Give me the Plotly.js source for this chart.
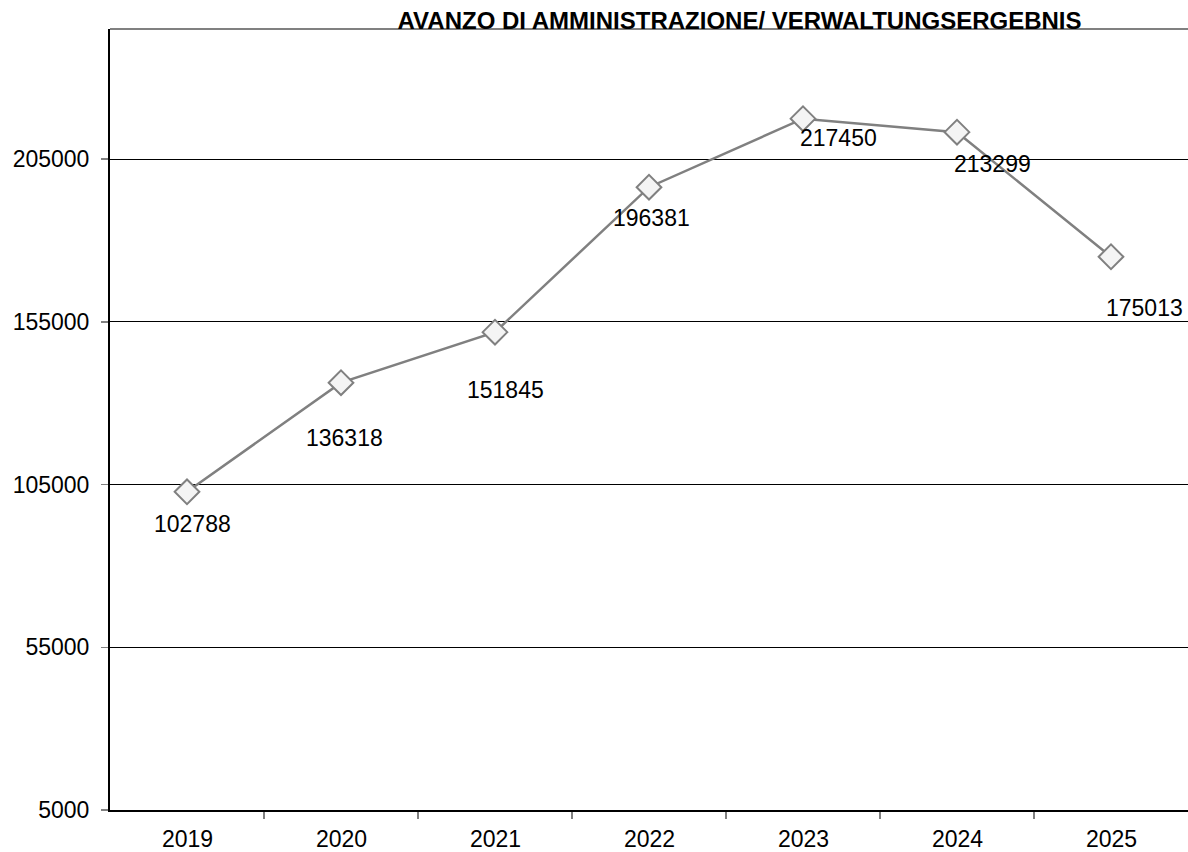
<!DOCTYPE html>
<html>
<head>
<meta charset="utf-8">
<script src="https://cdn.plot.ly/plotly-3.0.1.min.js"></script>
<style>
  body { margin: 0; background: #fff; }
  #chart { width: 1188px; height: 852px; }
</style>
</head>
<body>
<div id="chart"></div>
<script>
// values
var years = ['2019', '2020', '2021', '2022', '2023', '2024', '2025'];
var avanzo = [102788, 136318, 151845, 196381, 217450, 213299, 175013];
var yTicks = [5000, 55000, 105000, 155000, 205000];

// label offsets in px (where each data label sits relative to its point)
var labelDx = [5, 3, 10, 2, 35, 35, 33];
var labelDy = [-32, -55, -58, -31, -19, -32, -51];

var xIdx = years.map(function (y, i) { return i; });
var xBounds = [0.5, 1.5, 2.5, 3.5, 4.5, 5.5];

var trace = {
	x: xIdx,
	y: avanzo,
	type: 'scatter',
	mode: 'lines+markers',
	line: { color: '#808080', width: 2.5 },
	marker: {
		symbol: 'diamond',
		size: 19,
		color: '#f4f4f4',
		line: { color: '#808080', width: 2 }
	},
	hoverinfo: 'skip'
};

var annotations = [];
for (var i = 0; i < years.length; i++) {
	annotations.push({
		x: xIdx[i],
		y: avanzo[i],
		xref: 'x',
		yref: 'y',
		text: String(avanzo[i]),
		showarrow: false,
		xshift: labelDx[i],
		yshift: labelDy[i],
		font: { family: 'Liberation Sans, Arial, sans-serif', size: 23, color: '#000' }
	});
}
// year labels under each category
for (var j = 0; j < years.length; j++) {
	annotations.push({
		x: xIdx[j],
		y: 0,
		xref: 'x',
		yref: 'paper',
		yanchor: 'top',
		yshift: -14,
		text: years[j],
		showarrow: false,
		font: { family: 'Liberation Sans, Arial, sans-serif', size: 23, color: '#000' }
	});
}

var layout = {
	width: 1188,
	height: 852,
	margin: { l: 110, r: 0, t: 29, b: 42 },
	paper_bgcolor: '#fff',
	plot_bgcolor: '#fff',
	showlegend: false,
	font: { family: 'Liberation Sans, Arial, sans-serif', size: 23, color: '#000' },
	title: {
		text: '<b>AVANZO DI AMMINISTRAZIONE/ VERWALTUNGSERGEBNIS</b>',
		font: { family: 'Liberation Sans, Arial, sans-serif', size: 24, color: '#000' },
		xref: 'paper',
		x: 0.584,
		xanchor: 'center',
		yref: 'container',
		y: 1 - 21 / 852,
		yanchor: 'middle'
	},
	xaxis: {
		range: [-0.5, 6.5],
		tickvals: xBounds,
		ticktext: xBounds.map(function () { return ''; }),
		showgrid: false,
		zeroline: false,
		showline: true,
		linecolor: '#000',
		linewidth: 2,
		ticks: 'outside',
		ticklen: 7,
		tickcolor: '#808080',
		tickwidth: 1.5,
		fixedrange: true
	},
	yaxis: {
		range: [5000, 245000],
		tickvals: yTicks,
		ticktext: yTicks.map(String),
		showgrid: true,
		gridcolor: '#000',
		gridwidth: 1,
		zeroline: false,
		showline: true,
		linecolor: '#000',
		linewidth: 2,
		ticks: 'outside',
		ticklen: 7,
		tickcolor: '#808080',
		tickwidth: 1.5,
		ticklabelstandoff: 7,
		tickfont: { size: 23 },
		fixedrange: true
	},
	shapes: [{
		type: 'line',
		xref: 'paper', yref: 'paper',
		x0: 0, x1: 1, y0: 1, y1: 1,
		line: { color: '#808080', width: 2 },
		layer: 'below'
	}],
	annotations: annotations
};

Plotly.newPlot('chart', [trace], layout, { displayModeBar: false, staticPlot: true });
</script>
</body>
</html>
